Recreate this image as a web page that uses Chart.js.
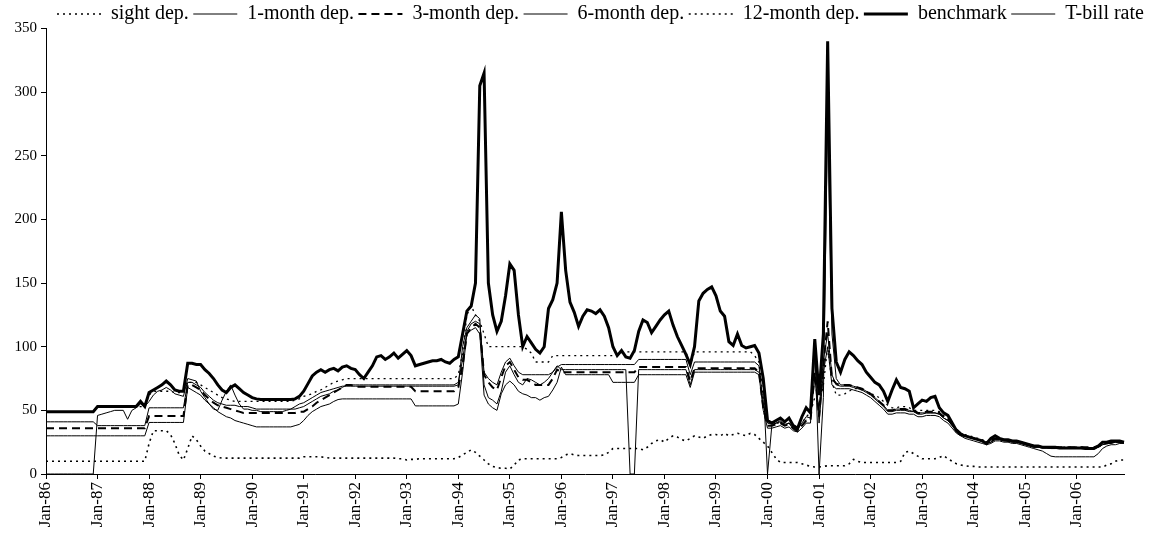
<!DOCTYPE html>
<html>
<head>
<meta charset="utf-8">
<script src="https://cdn.jsdelivr.net/npm/chart.js@4/dist/chart.umd.min.js"></script>
<style>
  html, body { margin: 0; padding: 0; background: #fff; }
  canvas { display: block; }
</style>
</head>
<body>
<canvas id="chart" width="1153" height="533"></canvas>
<script>
// Monthly observations, Jan-86 .. Dec-06 (one row per year)
const monthNames = ['Jan','Feb','Mar','Apr','May','Jun','Jul','Aug','Sep','Oct','Nov','Dec'];
const yearLabels = ['86','87','88','89','90','91','92','93','94','95','96','97','98','99','00','01','02','03','04','05','06'];
const categories = yearLabels.flatMap(y => monthNames.map(m => m + '-' + y));

const sightDep = [
  10,10,10,10,10,10,10,10,10,10,10,10,
  10,10,10,10,10,10,10,10,10,10,10,10,
  24,34,34,34,34,31,24,15,11,20,30,27,
  22,18,16,14,13,12.5,12.5,12.5,12.5,12.5,12.5,12.5,
  12.5,12.5,12.5,12.5,12.5,12.5,12.5,12.5,12.5,12.5,12.5,12.5,
  13.5,13.5,13.5,13.5,13.5,13,12.5,12.5,12.5,12.5,12.5,12.5,
  12.5,12.5,12.5,12.5,12.5,12.5,12.5,12.5,12.5,12.5,12,12,
  11,11.5,11.5,12,12,12,12,12,12,12,12,12,
  13,15,17,19,17,14,11,8,6,5,4.5,4.5,
  4,7,11,12,12,12,12,12,12,12,12,12,
  13,15,16,15,14.5,14.5,14.5,14.5,14.5,14.5,15,17,
  20,20,20,20,20,20,20,19,21,24,26,27,
  25,28,30,29,27,26,28,30,29,28,30,31,
  31,30,32,30,31,32,31,30,32,31,28,25,
  22,17,12,9,9,9,9,9,8,7,6,5.5,
  5.5,6,6.5,6.5,6.5,6.5,6.5,8,11.5,10,9,9,
  9,9,9,9,9,9,9,10,17,18,16,14,
  12,12,12,12,13,14.5,12,10,8,7,6.5,6,
  6,5.5,5.5,5.5,5.5,5.5,5.5,5.5,5.5,5.5,5.5,5.5,
  5.5,5.5,5.5,5.5,5.5,5.5,5.5,5.5,5.5,5.5,5.5,5.5,
  5.5,5.5,5.5,5.5,5.5,5.5,5.5,7,8,10,11,11
];

const oneMonthDep = [
  30,30,30,30,30,30,30,30,30,30,30,30,
  30,30,30,30,30,30,30,30,30,30,30,30,
  40.5,40.5,40.5,40.5,40.5,40.5,40.5,40.5,40.5,68,66,64,
  62,58,55,52,49,47,45,44,42,41,40,39,
  38,37,37,37,37,37,37,37,37,37,38,39,
  42,46,49,51,53,54,55,57,58.5,59,59,59,
  59,59,59,59,59,59,59,59,59,59,59,59,
  59,59,53.5,53.5,53.5,53.5,53.5,53.5,53.5,53.5,53.5,53.5,
  55,80,110,113,115,110,62,55,52,50,63,70,
  73,70,65,63,62,60,60,58,60,61,66,72,
  84,78,78,78,78,78,78,78,78,78,78,78,
  72,72,72,72,72,72,78,78,78,78,78,78,
  78,78,78,78,78,78,68,80,80,80,80,80,
  80,80,80,80,80,80,80,80,80,80,78,50,
  36,36,37,38,36,37,34,33,36,40,40,95,
  40,80,100,70,67,67,67,67,66,65,64,62,
  60,57,54,51,47,47,48,48,48,47,47,45,
  45,46,46,46,45,42,40,36,32,30,28,27,
  26,25,24,23,24,26,26,25,25,24,24,23,
  22,21,20,19,18,16,14,13.5,13.5,13.5,13.5,13.5,
  13.5,13.5,13.5,13.5,13.5,16,20,22,23,23,24,24
];

const threeMonthDep = [
  36,36,36,36,36,36,36,36,36,36,36,36,
  36,36,36,36,36,36,36,36,36,36,36,36,
  45.5,45.5,45.5,45.5,45.5,45.5,45.5,45.5,45.5,70,70,68,
  66,62,59,56,54,53,52,51,50,49,48,48,
  48,48,48,48,48,48,48,48,48,48,48,49,
  49,51,53,56,58,60,62,64,66,68,70,70,
  68.5,68.5,68.5,68.5,68.5,68.5,68.5,68.5,68.5,68.5,68.5,68.5,
  68.5,68.5,65,65,65,65,65,65,65,65,65,65,
  68,85,110,115,118,115,78,72,68,66,76,85,
  88,82,76,74,74,72,70,70,70,70,75,82,
  80,80,80,80,80,80,80,80,80,80,80,80,
  80,80,80,80,80,80,84,84,84,84,84,84,
  84,84,84,84,84,84,73,83,83,83,83,83,
  83,83,83,83,83,83,83,83,83,83,80,52,
  38,38,39,40,38,39,36,34,38,42,42,80,
  45,85,120,75,71,70,70,70,69,68,67,65,
  63,60,57,54,50,50,51,51,51,50,50,48,
  48,49,49,49,48,45,43,39,35,32,30,29,
  28,27,26,24,26,28,28,27,26,26,25,25,
  24,23,22,22,21,21,21,21,21,21,21,21,
  21,21,21,21,21,22,24,24,25,25,25,25
];

const sixMonthDep = [
  41,41,41,41,41,41,41,41,41,41,41,41,
  38,38,38,38,38,38,38,38,38,38,38,38,
  52,52,52,52,52,52,52,52,52,72,72,70,
  68,64,61,58,56,55,54,54,54,53,53,53,
  52,51,51,51,51,51,51,51,51,51,51,52,
  53,55,57,59,61,62,63,65,66,68,70,70,
  70,70,70,70,70,70,70,70,70,70,70,70,
  70,70,70,70,70,70,70,70,70,70,70,70,
  72,90,112,118,120,118,80,75,72,70,80,88,
  91,85,80,78,78,78,78,78,78,78,80,84,
  86,86,86,86,86,86,86,86,86,86,86,86,
  86,86,86,86,86,86,90,90,90,90,90,90,
  90,90,90,90,90,90,78,88,88,88,88,88,
  88,88,88,88,88,88,88,88,88,88,85,55,
  40,39,40,41,39,40,37,35,40,45,44,75,
  50,90,110,78,70,69,69,69,68,67,66,64,
  62,59,56,53,49,49,50,50,50,49,49,47,
  47,48,48,48,47,44,42,38,34,31,30,29,
  28,27,26,24,25,27,27,26,26,25,25,24,
  23,22,21,21,20.5,20.5,20,20,20,20,20,20,
  20,20,20,20,20,21,23,24,24.5,25,25,25
];

const twelveMonthDep = [
  49,49,49,49,49,49,49,49,49,49,49,49,
  53,53,53,53,53,53,53,53,53,53,53,53,
  62,65,65,65,65,65,64,64,64,72,72,72,
  70,68,66,64,62,60,59,58,57,57,57,57,
  57,57,57,57,57,57,57,57,57,57,58,59,
  61,62,63,65,66,68,70,72,73,74,75,75,
  75,75,75,75,75,75,75,75,75,75,75,75,
  75,75,75,75,75,75,75,75,75,75,75,75,
  78,95,125,132,125,120,110,100,100,100,100,100,
  100,100,100,100,98,95,88,88,88,88,93,93,
  93,93,93,93,93,93,93,93,93,93,93,93,
  93,93,95,96,96,96,96,96,96,96,96,96,
  96,96,96,96,96,96,85,96,96,96,96,96,
  96,96,96,96,96,96,96,96,96,93,88,60,
  40,40,40,40,40,40,38,37,40,45,48,60,
  55,70,100,72,62,62,63,65,67,67,66,65,
  63,62,60,57,54,52,52,53,53,52,50,50,
  50,50,50,50,49,46,43,39,35,32,31,30,
  29,28,27,25,27,28,28,27,27,26,26,25,
  24,23,22,22,21,21,21,21,21,21,21,21,
  21,21,21,20.5,20.5,21,23,24,24.5,25,25,25
];

const benchmark = [
  49,49,49,49,49,49,49,49,49,49,49,49,
  53,53,53,53,53,53,53,53,53,53,57,53,
  64,66,68,70,73,70,66,65,65,87,87,86,
  86,82,79,75,70,66,64,68,70,67,64,62,
  60,59,58.5,58.5,58.5,58.5,58.5,58.5,58.5,58.5,59,61,
  65,71,77,80,82,80,82,83,81,84,85,83,
  82,78,75,80,85,92,93,90,92,95,91,94,
  97,93,85,86,87,88,89,89,90,88,87,90,
  92,110,128,132,150,305,315,150,125,112,120,140,
  165,160,125,100,108,103,98,95,100,130,137,150,
  206,160,135,127,116,124,129,128,126,129,124,115,
  100,93,97,92,91,97,112,121,119,111,116,121,
  125,128,117,108,101,94,86,100,136,142,145,147,
  140,128,124,104,101,110,101,99,100,101,95,75,
  42,40,42,44,41,44,38,36,45,52,48,106,
  62,110,340,130,88,80,90,96,93,89,86,80,
  76,72,70,65,57,66,74,68,67,65,52,55,
  58,57,60,61,52,48,46,40,34,31,30,29,
  28,27,26,24,28,30,28,27,27,26,26,25,
  24,23,22,22,21,21,21,21,20.5,20.5,20.5,20.5,
  20.5,20.5,20,20,20,22,25,25,26,26,26,25
];

const tBillRate = [
  0,0,0,0,0,0,0,0,0,0,0,0,
  46,47,48,49,50,50,50,43,50,52,55,53,
  57,62,65,66,68,66,63,62,61,75,74,73,
  65,60,55,51,50,58,65,70,62,55,51,51,
  50,50,49,49,49,49,49,49,50,51,53,55,
  56,58,60,62,64,65,66,67,68,69,69,69,
  69,69,69,69,69,69,69,69,69,69,69,69,
  69,69,69,69,69,69,69,69,69,69,69,69,
  70,100,115,120,125,122,70,60,58,55,65,80,
  85,78,72,70,75,74,72,70,72,75,80,85,
  82,82,82,82,82,82,82,82,82,82,82,82,
  82,82,82,82,0,0,82,82,82,82,82,82,
  82,82,82,82,82,82,70,82,82,82,82,82,
  82,82,82,82,82,82,82,82,82,82,80,70,
  0,38,40,42,38,40,35,33,45,52,50,100,
  0,60,280,110,75,70,70,70,69,68,67,65,
  63,60,57,54,50,50,51,51,51,50,49,48,
  48,48,48,48,47,44,42,38,34,31,30,29,
  28,27,26,24,25,27,27,26,26,25,25,24,
  23,22,21,21,20.5,20.5,20,20,20,20,20,20,
  20,20,20,20,20,21,23,24,24,25,25,25
];

const yTicks = { min: 0, max: 350, step: 50 };

const serif = 'Liberation Serif, "Times New Roman", serif';
const ink = '#000';

function series(label, data, width, dash) {
  return {
    label, data,
    borderColor: ink, backgroundColor: ink,
    borderWidth: width, borderDash: dash,
    pointRadius: 0, tension: 0, fill: false
  };
}

// Places the legend row along the top edge
const legendRow = {
  id: 'legendRow',
  afterLayout(chart) {
    const lg = chart.legend;
    if (!lg) return;
    const pad = lg.options.labels.padding;
    lg.left = 57 - pad;
    lg.right = chart.width;
    lg.top += 5.5;
    lg.bottom += 5.5;
  }
};

// Legend samples carry each line's own width and dash pattern
function lineLegendLabels(chart) {
  return chart.data.datasets.map((ds, i) => ({
    text: ds.label,
    datasetIndex: i,
    hidden: !chart.isDatasetVisible(i),
    fillStyle: ink,
    strokeStyle: ink,
    fontColor: ink,
    lineWidth: ds.borderWidth,
    lineDash: ds.borderDash,
    lineCap: 'butt',
    pointStyle: 'line'
  }));
}

new Chart(document.getElementById('chart'), {
  type: 'line',
  data: {
    labels: categories,
    datasets: [
      series('sight dep.', sightDep, 1.6, [2, 4]),
      series('1-month dep.', oneMonthDep, 1, []),
      series('3-month dep.', threeMonthDep, 2, [8, 5]),
      series('6-month dep.', sixMonthDep, 1, []),
      series('12-month dep.', twelveMonthDep, 1.3, [2, 4]),
      series('benchmark', benchmark, 3, []),
      series('T-bill rate', tBillRate, 1, [])
    ]
  },
  options: {
    responsive: false,
    animation: false,
    devicePixelRatio: 1,
    layout: { padding: { top: -6, right: 29, bottom: 0, left: 0 } },
    plugins: {
      tooltip: { enabled: false },
      legend: {
        position: 'top',
        align: 'start',
        labels: {
          usePointStyle: true,
          pointStyle: 'line',
          pointStyleWidth: 44,
          padding: 4.5,
          color: ink,
          font: { family: serif, size: 20 },
          generateLabels: lineLegendLabels
        }
      }
    },
    scales: {
      x: {
        type: 'category',
        offset: false,
        afterFit(scale) { scale.height = 59; },
        border: { display: true, color: ink, width: 1 },
        grid: { display: true, drawOnChartArea: false, drawTicks: true, tickLength: 5, color: ink },
        ticks: {
          autoSkip: false,
          maxRotation: 90,
          minRotation: 90,
          padding: 3,
          color: ink,
          font: { family: serif, size: 17 },
          callback(value, index) {
            return index % 12 === 0 ? this.getLabelForValue(value) : null;
          }
        }
      },
      y: {
        min: yTicks.min,
        max: yTicks.max,
        afterFit(scale) { scale.width = 46; },
        border: { display: true, color: ink, width: 1 },
        grid: { display: true, drawOnChartArea: false, drawTicks: true, tickLength: 5, color: ink },
        ticks: {
          stepSize: yTicks.step,
          padding: 4,
          color: ink,
          font: { family: serif, size: 15 }
        }
      }
    }
  },
  plugins: [legendRow]
});
</script>
</body>
</html>
